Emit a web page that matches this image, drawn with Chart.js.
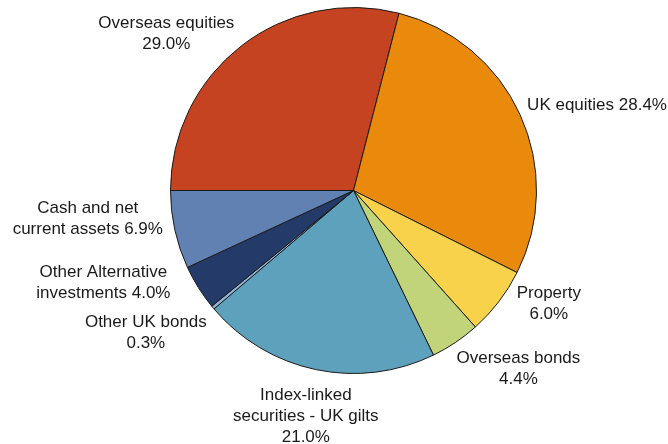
<!DOCTYPE html>
<html>
<head>
<meta charset="utf-8">
<script src="https://cdn.jsdelivr.net/npm/chart.js@4/dist/chart.umd.min.js"></script>
<style>
  html, body { margin: 0; padding: 0; background: #fff; }
  #wrap { width: 668px; height: 444px; }
</style>
</head>
<body>
<div id="wrap"><canvas id="pieChart"></canvas></div>
<script>
// dados do gráfico
const categories = ['Overseas equities', 'UK equities', 'Property', 'Overseas bonds',
  'Index-linked securities - UK gilts', 'Other UK bonds', 'Other Alternative investments',
  'Cash and net current assets'];
const shares = [29.0, 28.4, 6.0, 4.4, 21.0, 0.3, 4.0, 6.9];
// texto das etiquetas, %v = valor
const labelFormats = ['Overseas equities\n%v', 'UK equities %v', 'Property\n%v', 'Overseas bonds\n%v',
  'Index-linked\nsecurities - UK gilts\n%v', 'Other UK bonds\n%v', 'Other Alternative\ninvestments %v',
  'Cash and net\ncurrent assets %v'];
const sliceColors = ['#c54321', '#ea8a0c', '#f7d24a', '#c1d47a', '#5ea1bd', '#8fb4d6', '#243a68', '#6081b1'];

// deslocamento do centro da etiqueta em relação ao ponto médio do arco
const labelNudge = [[-75, -12], [77, -9], [50, 2], [63, 26], [-10, 47], [-67, 25], [-95, -5], [-87, -11]];

const pieLabels = {
  id: 'pieLabels',
  afterDatasetsDraw(chart) {
    const c = chart.ctx;
    const meta = chart.getDatasetMeta(0);
    c.save();
    c.font = '17px "Liberation Sans", Arial, sans-serif';
    c.fillStyle = '#1a1a1a';
    c.textAlign = 'center';
    c.textBaseline = 'middle';
    const lh = 21;
    meta.data.forEach((arc, i) => {
      const p = arc.getProps(['x', 'y', 'startAngle', 'endAngle', 'outerRadius'], true);
      const mid = (p.startAngle + p.endAngle) / 2;
      const ax = p.x + Math.cos(mid) * p.outerRadius + labelNudge[i][0];
      const ay = p.y + Math.sin(mid) * p.outerRadius + labelNudge[i][1];
      const lines = labelFormats[i].replace('%v', shares[i].toFixed(1) + '%').split('\n');
      const y0 = ay - (lines.length - 1) * lh / 2;
      lines.forEach((t, k) => c.fillText(t, ax, y0 + k * lh));
    });
    c.restore();
  }
};

const ctx = document.getElementById('pieChart').getContext('2d');
const pieChart = new Chart(ctx, {
  type: 'pie',
  data: {
    labels: categories,
    datasets: [{
      data: shares,
      backgroundColor: sliceColors,
      borderColor: '#1a1a1a',
      borderWidth: 1,
      offset: 0,
      hoverOffset: 0
    }]
  },
  options: {
    responsive: true,
    maintainAspectRatio: false,
    animation: false,
    rotation: -90,
    layout: { padding: { top: 7, bottom: 70, left: 170, right: 131 } },
    plugins: {
      legend: { display: false },
      tooltip: { enabled: false }
    }
  },
  plugins: [pieLabels]
});
</script>
</body>
</html>
